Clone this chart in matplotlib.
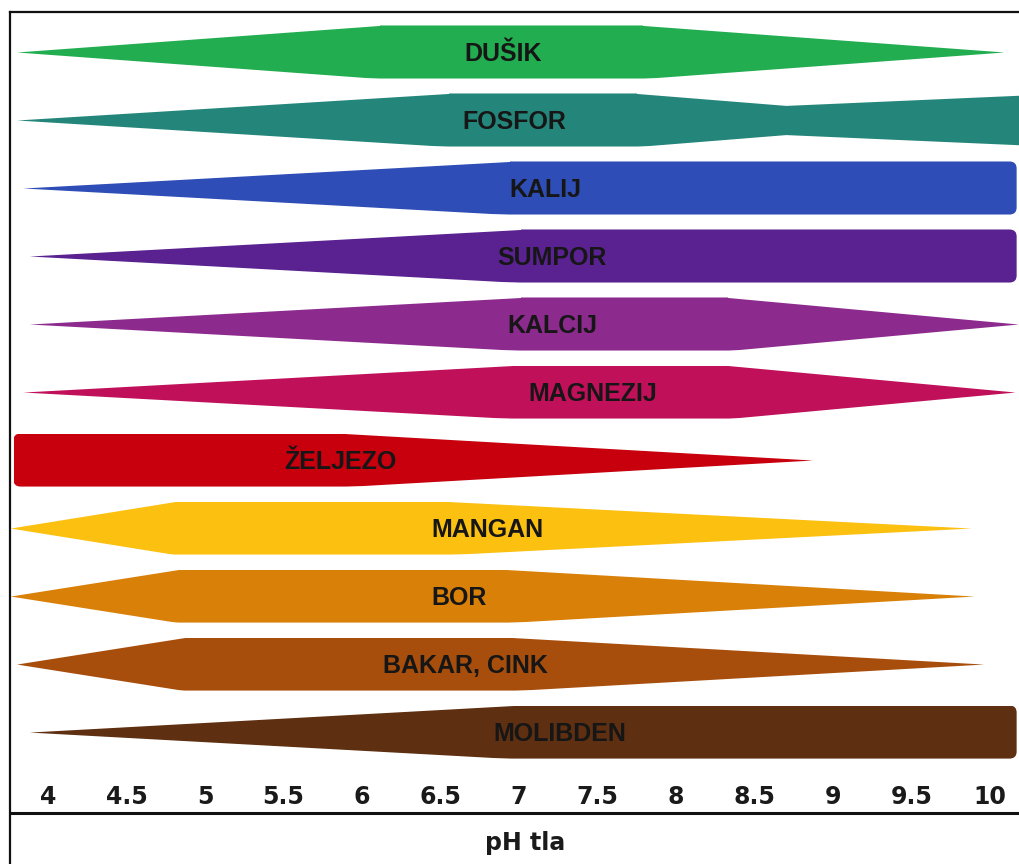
import matplotlib
matplotlib.use('Agg')
from matplotlib import pyplot as plt
from matplotlib.patches import FancyBboxPatch

nutrients = ['DUŠIK', 'FOSFOR', 'KALIJ', 'SUMPOR', 'KALCIJ', 'MAGNEZIJ',
             'ŽELJEZO', 'MANGAN', 'BOR', 'BAKAR, CINK', 'MOLIBDEN']
colors = ['#22ad50', '#24867a', '#2e4db6', '#5a2290', '#8c2a8e', '#c0105a',
          '#c8000e', '#fcc010', '#d88008', '#a84e0c', '#5e2f10']

# pH values where each band's outline changes, and the relative width there
band_ph = [
    [3.80, 6.11, 7.79, 10.09],
    [3.80, 6.55, 7.75, 8.70, 10.25],
    [3.84, 6.94, 10.17],
    [3.88, 7.01, 10.17],
    [3.88, 7.01, 8.33, 10.18],
    [3.84, 6.96, 8.33, 10.16],
    [3.78, 5.89, 8.87],
    [3.76, 4.81, 6.55, 9.88],
    [3.76, 4.83, 6.92, 9.90],
    [3.80, 4.87, 6.96, 9.96],
    [3.88, 6.96, 10.17],
]
band_width = [
    [0, 1, 1, 0],
    [0, 1, 1, 0.55, 0.95],
    [0, 1, 1],
    [0, 1, 1],
    [0, 1, 1, 0],
    [0, 1, 1, 0],
    [1, 1, 0],
    [0, 1, 1, 0],
    [0, 1, 1, 0],
    [0, 1, 1, 0],
    [0, 1, 1],
]
label_ph = [6.90, 6.97, 7.17, 7.21, 7.21, 7.47, 5.86, 6.80, 6.62, 6.66, 7.26]

ph_ticks = [4, 4.5, 5, 5.5, 6, 6.5, 7, 7.5, 8, 8.5, 9, 9.5, 10]
tick_labels = ['4', '4.5', '5', '5.5', '6', '6.5', '7', '7.5', '8', '8.5',
               '9', '9.5', '10']
x_label = 'pH tla'

half = 0.39

fig = plt.figure(figsize=(10.19, 8.64), dpi=100)
ax = fig.add_axes([10 / 1019, 0, 1 - 10 / 1019, 1 - 12 / 864])
ax.set_xlim(3.758, 10.185)
ax.set_ylim(11.94, -0.588)
ax.set_xticks([])
ax.set_yticks([])
for s in ['right', 'bottom']:
    ax.spines[s].set_visible(False)
for s in ['left', 'top']:
    ax.spines[s].set_linewidth(1.6)
    ax.spines[s].set_color('#111111')

for i, name in enumerate(nutrients):
    xs = band_ph[i]
    ws = band_width[i]
    poly = ax.fill_between(xs, [i - w * half for w in ws],
                           [i + w * half for w in ws],
                           color=colors[i], linewidth=0)
    box = FancyBboxPatch((min(xs), i - half), max(xs) - min(xs), 2 * half,
                         boxstyle='round,pad=0,rounding_size=0.045',
                         mutation_aspect=157 / 68, transform=ax.transData)
    poly.set_clip_path(box)
    ax.text(label_ph[i], i + 0.03, name, ha='center', va='center',
            fontsize=18, fontweight='bold', color='#161616',
            family=['Liberation Sans', 'DejaVu Sans'])

# separator between scale and axis title
ax.axhline((813 - 52) / 68, color='#111111', linewidth=2.2)

for t, lab in zip(ph_ticks, tick_labels):
    ax.text(t, 10.96, lab, ha='center', va='center', fontsize=17,
            fontweight='bold', color='#1a1a1a', family='DejaVu Sans')

ax.text(7.04, 11.63, x_label, ha='center', va='center', fontsize=17,
        fontweight='bold', color='#1a1a1a', family='DejaVu Sans')

fig.savefig('out.png', dpi=100, facecolor='white')
